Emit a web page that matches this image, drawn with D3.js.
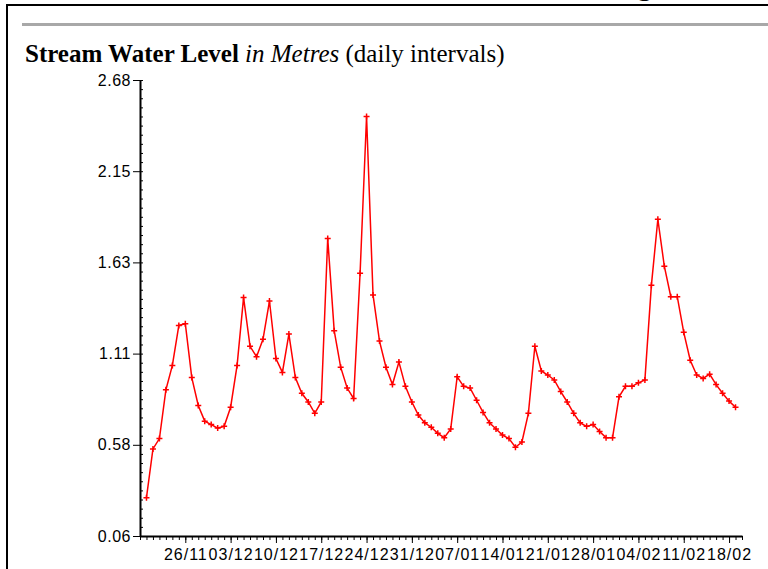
<!DOCTYPE html>
<html>
<head>
<meta charset="utf-8">
<script src="https://cdn.jsdelivr.net/npm/d3@7"></script>
<style>
  body { margin: 0; background: #fff; }
  svg { display: block; }
  .tick text { font-family: "Liberation Sans", Arial, sans-serif; fill: #000; }
</style>
</head>
<body>
<script>
// data (daily readings from 20/11)
const firstDay = "2003-11-20";
const levels = [0.28, 0.56, 0.62, 0.90, 1.04, 1.27, 1.28, 0.97, 0.81, 0.72,
    0.70, 0.68, 0.69, 0.80, 1.04, 1.43, 1.15, 1.09, 1.19, 1.41,
    1.08, 1.00, 1.22, 0.97, 0.88, 0.83, 0.765, 0.83, 1.77, 1.24,
    1.03, 0.91, 0.85, 1.57, 2.47, 1.445, 1.18, 1.03, 0.93, 1.06,
    0.92, 0.83, 0.755, 0.71, 0.685, 0.65, 0.625, 0.675, 0.975, 0.92,
    0.91, 0.84, 0.77, 0.71, 0.675, 0.64, 0.62, 0.57, 0.60, 0.765,
    1.15, 1.008, 0.985, 0.957, 0.89, 0.83, 0.765, 0.71, 0.69, 0.70,
    0.66, 0.625, 0.625, 0.86, 0.92, 0.92, 0.94, 0.957, 1.50, 1.88,
    1.61, 1.435, 1.435, 1.23, 1.07, 0.985, 0.965, 0.99, 0.93, 0.88,
    0.835, 0.80];
const yTicks = [0.06, 0.584, 1.108, 1.632, 2.156, 2.68];
const yTickLabels = ["0.06", "0.58", "1.11", "1.63", "2.15", "2.68"];
const xTickLabels = ["26/11", "03/12", "10/12", "17/12", "24/12", "31/12",
    "07/01", "14/01", "21/01", "28/01", "04/02", "11/02", "18/02"];
const xDomain = ["2003-11-19", "2004-02-20"];

const W = 768, H = 569;
const parse = d3.timeParse("%Y-%m-%d");
const start = parse(firstDay);
const data = levels.map((v, i) => ({ date: d3.timeDay.offset(start, i), level: v }));

const svg = d3.select("body").append("svg")
    .attr("width", W)
    .attr("height", H);

// page frame bits
svg.append("line").attr("x1", 6).attr("x2", W).attr("y1", 5).attr("y2", 5)
    .attr("stroke", "#000").attr("stroke-width", 2);
svg.append("line").attr("x1", 7).attr("x2", 7).attr("y1", 4).attr("y2", H)
    .attr("stroke", "#000").attr("stroke-width", 2);
svg.append("line").attr("x1", 22).attr("x2", W).attr("y1", 24.5).attr("y2", 24.5)
    .attr("stroke", "#a8a8a8").attr("stroke-width", 3);
svg.append("text").attr("x", 637).attr("y", -5)
    .style("font-family", "'Liberation Serif', serif").style("font-size", "30px")
    .text("g");

// title
const title = svg.append("text")
    .attr("x", 25).attr("y", 62)
    .style("font-family", "'Liberation Serif', 'Times New Roman', serif")
    .style("font-size", "25px");
title.append("tspan").style("font-weight", "bold").text("Stream Water Level");
title.append("tspan").style("font-style", "italic").text(" in Metres");
title.append("tspan").text(" (daily intervals)");

const x = d3.scaleTime().domain(xDomain.map(parse)).range([140, 742]);
const y = d3.scaleLinear().domain([0.06, 2.68]).range([536, 80]);

// x axis: a small tick each day, longer tick each week
svg.append("g")
    .attr("transform", "translate(0,536)")
    .call(d3.axisBottom(x).ticks(d3.timeDay.every(1)).tickFormat("").tickSize(4).tickSizeOuter(0))
    .call(g => g.select(".domain").attr("stroke-width", 2));

const weekTicks = xTickLabels.map(s => {
    const [dd, mm] = s.split("/");
    return parse((mm === "11" || mm === "12" ? "2003" : "2004") + "-" + mm + "-" + dd);
});
svg.append("g")
    .attr("transform", "translate(0,536)")
    .call(d3.axisBottom(x).tickValues(weekTicks).tickFormat((d, i) => xTickLabels[i])
        .tickSize(7).tickPadding(6).tickSizeOuter(0))
    .call(g => g.select(".domain").remove())
    .call(g => g.selectAll("text").style("font-size", "16px").style("letter-spacing", "1px"));

// y axis: minor ticks cross the line
const minor = d3.range(0, 51).map(i => 0.06 + i * (2.62 / 50));
svg.append("g")
    .attr("transform", "translate(140,0)")
    .call(d3.axisLeft(y).tickValues(minor).tickFormat("").tickSize(3).tickSizeOuter(0))
    .call(g => g.selectAll(".tick line").attr("x2", 3))
    .call(g => g.select(".domain").attr("stroke-width", 2));

svg.append("g")
    .attr("transform", "translate(140,0)")
    .call(d3.axisLeft(y).tickValues(yTicks).tickFormat((d, i) => yTickLabels[i])
        .tickSize(7).tickPadding(2).tickSizeOuter(0))
    .call(g => g.select(".domain").remove())
    .call(g => g.selectAll("text").style("font-size", "16px").style("letter-spacing", "0.5px"));

// the series
const line = d3.line()
    .x(d => x(d.date))
    .y(d => y(d.level));

svg.append("path")
    .datum(data)
    .attr("fill", "none")
    .attr("stroke", "#ff0000")
    .attr("stroke-width", 1.5)
    .attr("d", line);

svg.append("g").selectAll("path")
    .data(data)
    .enter().append("path")
    .attr("transform", d => `translate(${x(d.date)},${y(d.level)})`)
    .attr("d", "M-3,0H3M0,-3V3")
    .attr("stroke", "#ff0000")
    .attr("stroke-width", 1.5);
</script>
</body>
</html>
